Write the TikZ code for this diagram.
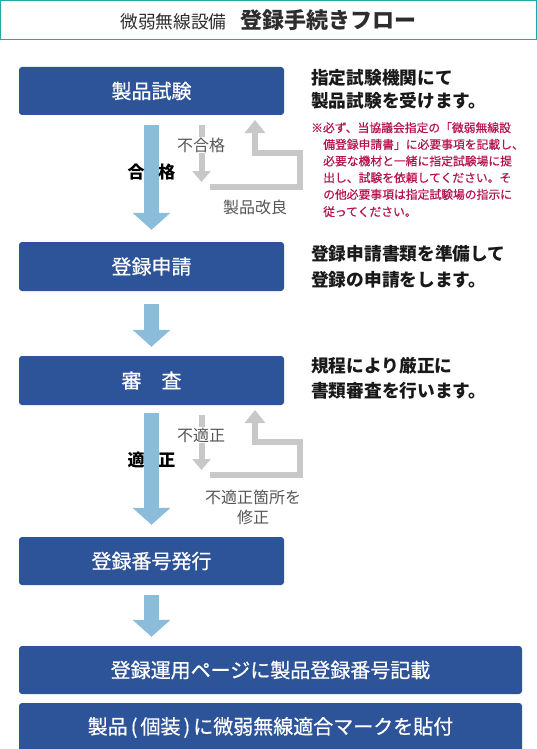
\documentclass[tikz,border=0pt]{standalone}
\usepackage{fontspec}
\setmainfont{Noto Sans CJK JP}
\newfontfamily\medfont[FakeBold=0.6]{Noto Sans CJK JP}
\usetikzlibrary{arrows.meta}
\definecolor{boxblue}{RGB}{45,83,152}
\definecolor{arrowblue}{RGB}{139,189,219}
\definecolor{retgray}{RGB}{200,200,200}
\definecolor{frameteal}{RGB}{32,168,166}
\definecolor{notered}{RGB}{180,20,78}
\definecolor{labgray}{RGB}{85,85,85}
\definecolor{titlegray}{RGB}{45,45,45}
\begin{document}
\begin{tikzpicture}[x=1pt,y=-1pt,
  stepbox/.style={fill=boxblue, rounded corners=3pt, text=white, font=\medfont\fontsize{20}{24}\selectfont, minimum width=265pt, minimum height=48pt, inner sep=0pt},
  widebox/.style={stepbox, minimum width=503pt},
  bluearrow/.style={draw=arrowblue, line width=15pt, -{Triangle[width=37pt,length=17pt]}},
  grayline/.style={draw=retgray, line width=6pt},
  graylab/.style={text=labgray, font=\fontsize{16}{20}\selectfont, inner sep=1pt},
  boldlab/.style={text=black, font=\bfseries\fontsize{17}{20}\selectfont, inner sep=0pt},
  desc/.style={anchor=west, inner sep=0pt, text=black!90, font=\bfseries\fontsize{17.7}{20}\selectfont},
  note/.style={anchor=west, inner sep=0pt, text=notered, font=\medfont\fontsize{11.8}{14}\selectfont}
]
\useasboundingbox (0,0) rectangle (537,749);

% title
\node[draw=frameteal, line width=1.3pt, minimum width=535.6pt, minimum height=38.9pt, inner sep=0pt, text=titlegray] (title) at (268.5,20.1)
  {\fontsize{17.7}{20}\selectfont 微弱無線設備\hspace{14pt}{\bfseries\fontsize{22}{24}\selectfont 登録手続きフロー}};

% steps
\node[stepbox] (b1) at (151.5,91) {製品試験};
\node[stepbox, minimum height=49pt] (b2) at (151.5,266.5) {登録申請};
\node[stepbox, minimum height=49pt] (b3) at (151.5,380.5) {審　査};
\node[stepbox] (b4) at (151.5,561) {登録番号発行};
\node[widebox] (w1) at (270.5,670) {登録運用ページに製品登録番号記載};
\node[widebox, minimum height=49pt] (w2) at (270.5,727.5) {製品\hspace{3pt}(\hspace{3pt}個装\hspace{3pt})\hspace{3pt}に微弱無線適合マークを貼付};

% main arrows
\draw[bluearrow, shorten <=10pt, shorten >=12pt] (b1.south) -- (b2.north);
\draw[bluearrow, shorten <=13pt, shorten >=9pt] (b2.south) -- (b3.north);
\draw[bluearrow, shorten <=8pt, shorten >=12pt] (b3.south) -- (b4.north);
\draw[bluearrow, shorten <=10pt, shorten >=9pt] (b4.south) -- (b4.south |- w1.north);

% failure loop 1
\coordinate (f1s) at (201.5,125);
\coordinate (f1e) at (201.5,182);
\draw[grayline, -{Triangle[width=18pt,length=11pt]}] (f1s) -- (f1e);
\coordinate (r1a) at (210,187);
\coordinate (r1b) at (299.5,187);
\coordinate (r1c) at (299.5,153);
\coordinate (r1d) at (255,153);
\coordinate (r1e) at (255,120);
\draw[grayline, -{Triangle[width=20pt,length=13pt]}] (r1a) -- (r1b) -- (r1c) -- (r1d) -- (r1e);
\node[graylab, fill=white] (ng1) at (201,145) {不合格};
\node[boldlab] (ok1) at (151.5,172) {合\hspace{14pt}格};
\node[graylab] (fix1) at (255,207) {製品改良};

% failure loop 2
\coordinate (f2s) at (201.5,415);
\coordinate (f2e) at (201.5,470);
\draw[grayline, -{Triangle[width=18pt,length=11pt]}] (f2s) -- (f2e);
\coordinate (r2a) at (210,475);
\coordinate (r2b) at (299.5,475);
\coordinate (r2c) at (299.5,442);
\coordinate (r2d) at (255,442);
\coordinate (r2e) at (255,410);
\draw[grayline, -{Triangle[width=20pt,length=13pt]}] (r2a) -- (r2b) -- (r2c) -- (r2d) -- (r2e);
\node[graylab, fill=white] (ng2) at (201,435) {不適正};
\node[boldlab] (ok2) at (151.5,460) {適\hspace{14pt}正};
\node[graylab, align=center] (fix2) at (253,507) {不適正箇所を\\修正};

% descriptions
\node[desc] (t1a) at (311,78) {指定試験機関にて};
\node[desc] (t1b) at (311,101) {製品試験を受けます。};
\node[desc] (t2a) at (311,254) {登録申請書類を準備して};
\node[desc] (t2b) at (311,280) {登録の申請をします。};
\node[desc] (t3a) at (311,366) {規程により厳正に};
\node[desc] (t3b) at (311,391) {書類審査を行います。};

% note
\node[note] (n1) at (311,127.7) {※必ず、当協議会指定の「微弱無線設};
\node[note] (n2) at (323,144.4) {備登録申請書」に必要事項を記載し、};
\node[note] (n3) at (323,161) {必要な機材と一緒に指定試験場に提};
\node[note] (n4) at (323,177.7) {出し、試験を依頼してください。そ};
\node[note] (n5) at (323,194.4) {の他必要事項は指定試験場の指示に};
\node[note] (n6) at (323,211.7) {従ってください。};
\end{tikzpicture}
\end{document}
